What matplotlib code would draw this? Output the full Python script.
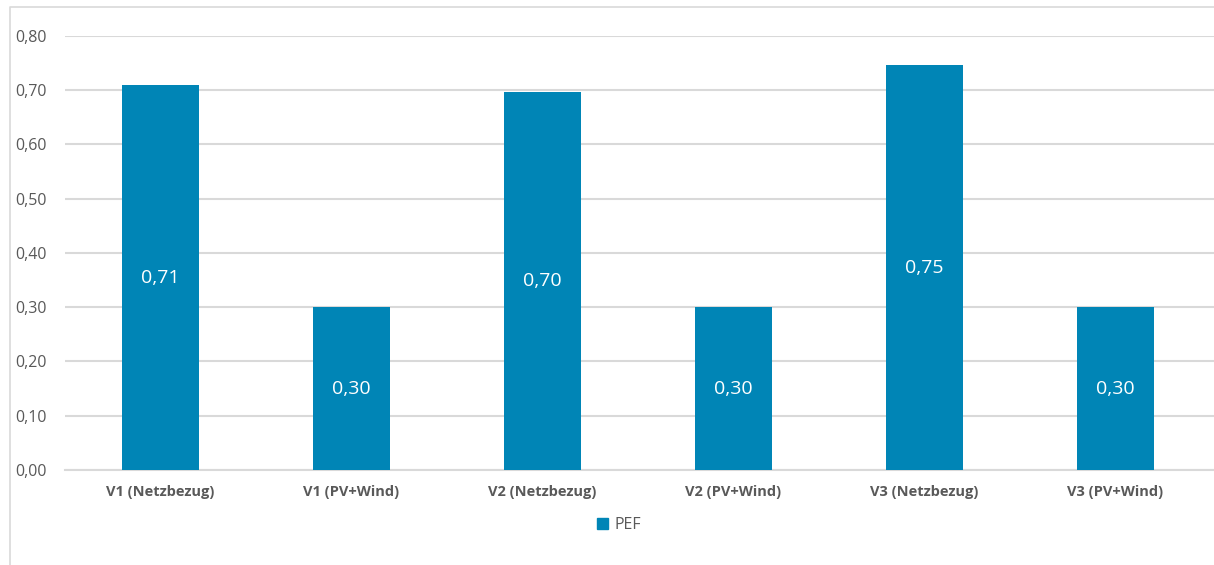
import matplotlib
matplotlib.use("Agg")
import matplotlib.pyplot as plt
from matplotlib.lines import Line2D
from matplotlib.patches import Patch
from matplotlib.ticker import FuncFormatter

categories = ["V1 (Netzbezug)", "V1 (PV+Wind)", "V2 (Netzbezug)",
              "V2 (PV+Wind)", "V3 (Netzbezug)", "V3 (PV+Wind)"]
pef = [0.709, 0.30, 0.697, 0.30, 0.746, 0.30]

BAR_COLOR = "#0085B6"
TEXT_GRAY = "#595959"
GRID_GRAY = "#D9D9D9"


def de_fmt(v):
    return f"{v:.2f}".replace(".", ",")


plt.rcParams["font.family"] = ["Open Sans", "DejaVu Sans"]

fig = plt.figure(figsize=(12.14, 5.65), dpi=100)
ax = fig.add_axes([0.0535, 0.1681, 0.9465, 0.7687])

x = list(range(len(categories)))
bars = ax.bar(x, pef, width=0.40, color=BAR_COLOR, zorder=3)

for b, v in zip(bars, pef):
    ax.text(b.get_x() + b.get_width() / 2, b.get_height() / 2, de_fmt(v),
            ha="center", va="center", color="white", fontsize=14, zorder=4)

ax.set_xlim(-0.5, 5.5 + 3 / 192)
ax.set_ylim(0, 0.8)
ax.set_yticks([i / 10 for i in range(9)])
ax.yaxis.set_major_formatter(FuncFormatter(lambda v, _: de_fmt(v)))
ax.set_xticks(x)
ax.set_xticklabels(categories, fontweight="bold", fontsize=10.5, color=TEXT_GRAY)
ax.tick_params(axis="y", length=0, labelsize=11.5, labelcolor=TEXT_GRAY, pad=13)
ax.tick_params(axis="x", length=0, pad=11)

ax.grid(axis="y", color=GRID_GRAY, linewidth=1.5, zorder=0)
for s in ["top", "right", "left"]:
    ax.spines[s].set_visible(False)
ax.spines["bottom"].set_color(GRID_GRAY)
ax.spines["bottom"].set_linewidth(1.5)

ax.legend(handles=[Patch(color=BAR_COLOR, label="PEF")], loc="center",
          bbox_to_anchor=(0.5 - 0.0535 / 2 + 0.009, -0.127), frameon=False,
          fontsize=11.5, labelcolor=TEXT_GRAY, handlelength=0.7, handleheight=0.7,
          handletextpad=0.4)

# chart-area frame (top and left)
fig.add_artist(Line2D([10 / 1214, 10 / 1214, 1.0], [0.0, 1 - 7 / 565, 1 - 7 / 565],
                      transform=fig.transFigure, color="#D9D9D9", linewidth=1.2))

fig.savefig("out.png", dpi=100, facecolor="white")
